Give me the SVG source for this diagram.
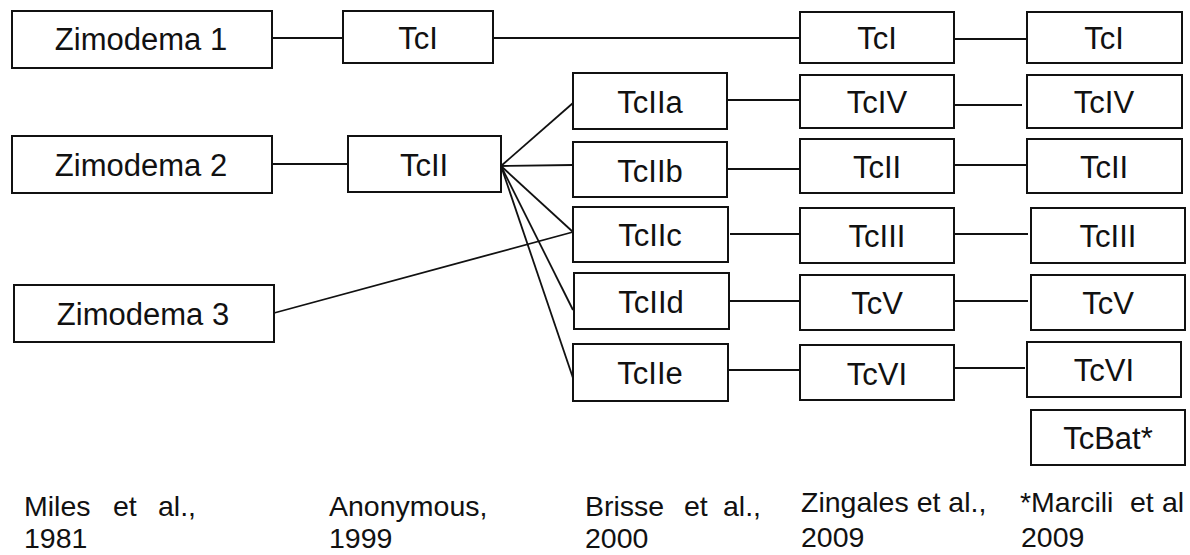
<svg xmlns="http://www.w3.org/2000/svg" width="1190" height="555" viewBox="0 0 1190 555">
<style>
.box{fill:#fff;stroke:#111;stroke-width:2}
.lbl{font-family:"Liberation Sans",Arial,sans-serif;font-size:31px;fill:#111;text-anchor:middle}
.cap{font-family:"Liberation Sans",Arial,sans-serif;font-size:28.5px;fill:#111}
.ln{stroke:#111;stroke-width:1.8;fill:none}
</style>
<rect width="1190" height="555" fill="#fff"/>
<g id="connectors">
<line class="ln" x1="272" y1="38" x2="343" y2="38"/>
<line class="ln" x1="493" y1="38" x2="800" y2="38"/>
<line class="ln" x1="954" y1="39" x2="1027" y2="39"/>
<line class="ln" x1="272" y1="164" x2="348" y2="164"/>
<line class="ln" x1="501" y1="166" x2="573" y2="103"/>
<line class="ln" x1="501" y1="166" x2="573" y2="165"/>
<line class="ln" x1="501" y1="166" x2="573" y2="232"/>
<line class="ln" x1="501" y1="166" x2="573" y2="310"/>
<line class="ln" x1="501" y1="166" x2="573" y2="378"/>
<line class="ln" x1="274" y1="313" x2="573" y2="232"/>
<line class="ln" x1="727" y1="100" x2="800" y2="100"/>
<line class="ln" x1="954" y1="105" x2="1022" y2="105"/>
<line class="ln" x1="727" y1="169" x2="800" y2="169"/>
<line class="ln" x1="954" y1="165" x2="1027" y2="165"/>
<line class="ln" x1="730" y1="234" x2="803" y2="234"/>
<line class="ln" x1="954" y1="234" x2="1028" y2="234"/>
<line class="ln" x1="729" y1="301" x2="803" y2="301"/>
<line class="ln" x1="954" y1="301" x2="1028" y2="301"/>
<line class="ln" x1="728" y1="370" x2="800" y2="370"/>
<line class="ln" x1="952" y1="368" x2="1025" y2="368"/>
</g>
<g id="zim1"><rect class="box" x="12" y="11" width="260" height="57"/><text class="lbl" x="141" y="50">Zimodema 1</text></g>
<g id="zim2"><rect class="box" x="12" y="136" width="260" height="57"/><text class="lbl" x="141" y="176">Zimodema 2</text></g>
<g id="zim3"><rect class="box" x="14" y="285" width="260" height="57"/><text class="lbl" x="143" y="325">Zimodema 3</text></g>
<g id="a-tci"><rect class="box" x="343" y="11" width="150" height="52"/><text class="lbl" x="418" y="49">TcI</text></g>
<g id="a-tcii"><rect class="box" x="348" y="136" width="153" height="56"/><text class="lbl" x="424" y="176">TcII</text></g>
<g id="b-tciia"><rect class="box" x="573" y="73" width="154" height="56"/><text class="lbl" x="650" y="113">TcIIa</text></g>
<g id="b-tciib"><rect class="box" x="573" y="142" width="154" height="55"/><text class="lbl" x="650" y="182">TcIIb</text></g>
<g id="b-tciic"><rect class="box" x="573" y="207" width="155" height="55"/><text class="lbl" x="650" y="246">TcIIc</text></g>
<g id="b-tciid"><rect class="box" x="574" y="273" width="155" height="56"/><text class="lbl" x="651" y="313">TcIId</text></g>
<g id="b-tciie"><rect class="box" x="573" y="344" width="155" height="57"/><text class="lbl" x="650" y="384">TcIIe</text></g>
<g id="c-tci"><rect class="box" x="800" y="12" width="154" height="51"/><text class="lbl" x="877" y="49">TcI</text></g>
<g id="c-tciv"><rect class="box" x="800" y="75" width="154" height="53"/><text class="lbl" x="877" y="113">TcIV</text></g>
<g id="c-tcii"><rect class="box" x="800" y="139" width="154" height="54"/><text class="lbl" x="877" y="178">TcII</text></g>
<g id="c-tciii"><rect class="box" x="800" y="208" width="154" height="55"/><text class="lbl" x="877" y="247">TcIII</text></g>
<g id="c-tcv"><rect class="box" x="800" y="275" width="154" height="55"/><text class="lbl" x="877" y="314">TcV</text></g>
<g id="c-tcvi"><rect class="box" x="800" y="345" width="154" height="55"/><text class="lbl" x="877" y="385">TcVI</text></g>
<g id="d-tci"><rect class="box" x="1027" y="12" width="155" height="51"/><text class="lbl" x="1104" y="49">TcI</text></g>
<g id="d-tciv"><rect class="box" x="1027" y="75" width="155" height="53"/><text class="lbl" x="1104" y="113">TcIV</text></g>
<g id="d-tcii"><rect class="box" x="1027" y="139" width="155" height="54"/><text class="lbl" x="1104" y="178">TcII</text></g>
<g id="d-tciii"><rect class="box" x="1031" y="208" width="154" height="55"/><text class="lbl" x="1108" y="247">TcIII</text></g>
<g id="d-tcv"><rect class="box" x="1031" y="275" width="154" height="55"/><text class="lbl" x="1108" y="314">TcV</text></g>
<g id="d-tcvi"><rect class="box" x="1027" y="342" width="154" height="55"/><text class="lbl" x="1104" y="381">TcVI</text></g>
<g id="d-tcbat"><rect class="box" x="1031" y="410" width="154" height="55"/><text class="lbl" x="1108" y="449">TcBat*</text></g>
<g id="captions">
<text class="cap" y="516"><tspan x="24">Miles</tspan><tspan x="113">et</tspan><tspan x="158">al.,</tspan></text>
<text class="cap" x="24" y="548">1981</text>
<text class="cap" x="329" y="516">Anonymous,</text>
<text class="cap" x="329" y="548">1999</text>
<text class="cap" y="516"><tspan x="585">Brisse</tspan><tspan x="684">et</tspan><tspan x="723">al.,</tspan></text>
<text class="cap" x="585" y="548">2000</text>
<text class="cap" x="801" y="512">Zingales et al.,</text>
<text class="cap" x="801" y="547">2009</text>
<text class="cap" y="512"><tspan x="1020">*Marcili</tspan><tspan x="1130">et</tspan><tspan x="1162">al</tspan></text>
<text class="cap" x="1021" y="547">2009</text>
</g>
</svg>
